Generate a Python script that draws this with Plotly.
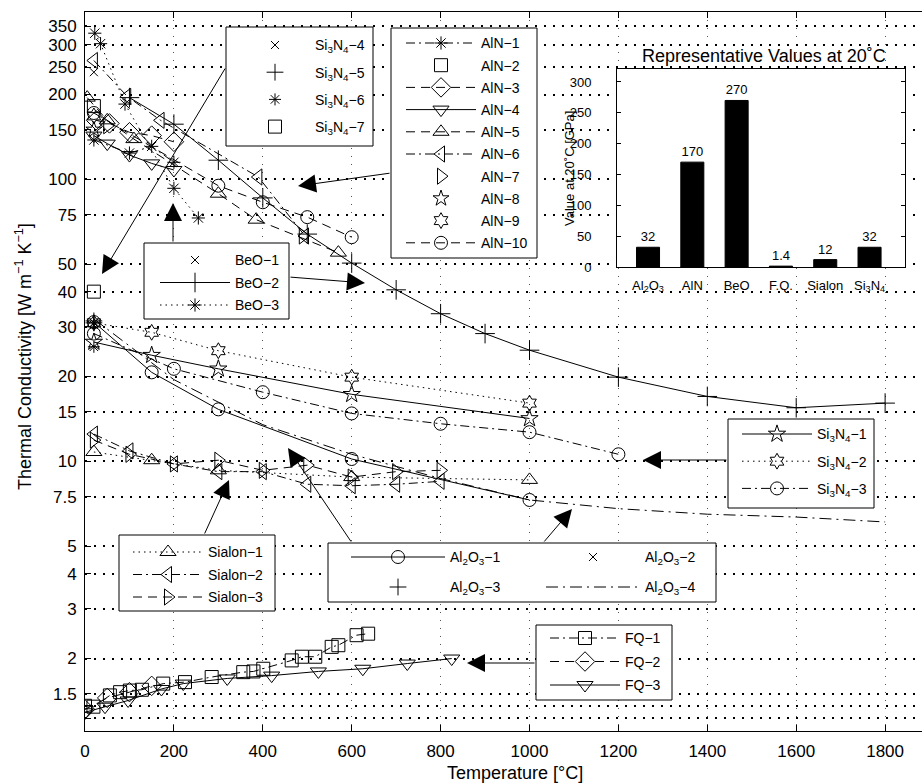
import plotly.graph_objects as go

FONT = "Liberation Sans, Arial, sans-serif"

# ---------------- data ----------------
si3n4_4_x = [20];  si3n4_4_y = [31]
si3n4_5_x = [20];  si3n4_5_y = [31.5]
si3n4_6_x = [20, 20];  si3n4_6_y = [31, 25.5]
si3n4_7_x = [20];  si3n4_7_y = [40]

aln1_x = [20, 100, 150, 200];            aln1_y = [138, 124, 131, 115]
aln2_x = [20];                           aln2_y = [182]
aln3_x = [25, 55, 100, 150, 200];        aln3_y = [162, 158, 147, 143, 136]
aln4_x = [20, 50, 100, 150, 200];        aln4_y = [143, 134, 122, 114, 108]
aln5_x = [5, 50, 110, 300, 385, 570];    aln5_y = [195, 162, 139, 89, 72, 55]
aln6_x = [20, 95, 170, 390, 495];        aln6_y = [264, 197, 162, 102, 63]
aln7_x = [50, 490];                      aln7_y = [155, 63]
aln8_x = [20];                           aln8_y = [150]
aln9_x = [20];                           aln9_y = [168]
aln10_x = [20, 300, 400, 500, 600];      aln10_y = [172, 95, 83, 73.5, 62.4]

beo1_x = [20];  beo1_y = [240]
beo2_x = [100, 200, 300, 400, 500, 600, 700, 800, 900, 1000, 1200, 1400, 1600, 1800]
beo2_y = [195, 157, 117, 86, 64, 50.5, 40.6, 33.4, 28.4, 24.8, 19.9, 17.0, 15.5, 16.1]
beo3_x = [22, 35, 90, 200, 255];  beo3_y = [330, 303, 185, 93, 73]

si3n4_1_x = [20, 150, 300, 600, 1000];  si3n4_1_y = [26.5, 23.8, 21.3, 17.3, 14.2]
si3n4_2_x = [20, 150, 300, 600, 1000];  si3n4_2_y = [31, 28.7, 24.7, 19.9, 16.1]
si3n4_3_x = [20, 200, 400, 600, 800, 1000, 1200]
si3n4_3_y = [28.4, 21.3, 17.6, 14.8, 13.6, 12.7, 10.6]

sialon1_x = [20, 150, 300, 600, 1000];  sialon1_y = [10.8, 10.1, 9.3, 8.8, 8.6]
sialon2_x = [20, 100, 200, 300, 400, 500, 600, 700, 800]
sialon2_y = [12.5, 10.9, 9.8, 9.2, 9.2, 8.3, 8.2, 8.3, 8.5]
sialon3_x = [20, 100, 200, 300, 400, 500, 600, 700, 800]
sialon3_y = [11.9, 10.6, 9.8, 10.1, 9.3, 9.7, 8.8, 9.2, 9.3]

al2o3_1_x = [20, 150, 300, 600, 1000];  al2o3_1_y = [31.2, 20.7, 15.3, 10.2, 7.3]
al2o3_2_x = [20];  al2o3_2_y = [30.5]
al2o3_3_x = [20];  al2o3_3_y = [31]
al2o3_4_x = [20, 200, 400, 600, 800, 1000, 1200, 1400, 1600, 1800]
al2o3_4_y = [32, 19.5, 13.5, 10.6, 8.7, 7.3, 6.8, 6.5, 6.35, 6.1]

fq1_x = [0, 19, 56, 79, 101, 128, 176, 225, 285, 356, 379, 401, 465, 488, 518, 555, 570, 611, 637]
fq1_y = [1.36, 1.35, 1.48, 1.52, 1.54, 1.55, 1.63, 1.65, 1.72, 1.79, 1.80, 1.84, 1.97, 2.03, 2.03,
         2.2, 2.23, 2.42, 2.45]
fq2_x = [0, 50, 100, 150];  fq2_y = [1.32, 1.45, 1.52, 1.60]
fq3_x = [0, 45, 97, 172, 221, 320, 420, 525, 625, 725, 825]
fq3_y = [1.29, 1.35, 1.42, 1.56, 1.63, 1.70, 1.74, 1.80, 1.84, 1.92, 2.0]

inset_labels = ["Al<sub>2</sub>O<sub>3</sub>", "AlN", "BeO", "F.Q.", "Sialon", "Si<sub>3</sub>N<sub>4</sub>"]
inset_values = [32, 170, 270, 1.4, 12, 32]
inset_text = ["32", "170", "270", "1.4", "12", "32"]

x_ticks = [0, 200, 400, 600, 800, 1000, 1200, 1400, 1600, 1800]
y_ticks = [1.5, 2, 3, 4, 5, 7.5, 10, 15, 20, 30, 40, 50, 75, 100, 150, 200, 250, 300, 350]
y_ticktext = ["1.5", "2", "3", "4", "5", "7.5", "10", "15", "20", "30", "40", "50", "75",
              "100", "150", "200", "250", "300", "350"]
y_minor = [1.23, 1.36]

SI = "Si<sub>3</sub>N<sub>4</sub>"
AL = "Al<sub>2</sub>O<sub>3</sub>"
M = "\u2212"

# ---------------- styles ----------------
DASH = "9px,6px"
DASHDOT = "9px,4px,2px,4px"
DOT = "1.5px,4px"

fig = go.Figure()


def add(name, x, y, symbol, dash, legend, size=12):
    mode = "markers" if dash is None else "lines+markers"
    fig.add_trace(go.Scatter(
        x=x, y=y, name=name, mode=mode, legend=legend, legendgroup=name,
        line=dict(color="black", width=1, dash=dash if dash else "solid"),
        marker=dict(symbol=symbol, size=size, color="black",
                    line=dict(color="black", width=1)),
    ))


# legend 1: Si3N4-4..7
add(SI + M + "4", si3n4_4_x, si3n4_4_y, "x-thin-open", None, "legend", 8)
add(SI + M + "5", si3n4_5_x, si3n4_5_y, "cross-thin-open", None, "legend", 12)
add(SI + M + "6", si3n4_6_x, si3n4_6_y, "asterisk-open", None, "legend", 10)
add(SI + M + "7", si3n4_7_x, si3n4_7_y, "square-open", None, "legend", 13)
# legend 2: AlN
add("AlN" + M + "1", aln1_x, aln1_y, "asterisk-open", DASHDOT, "legend2", 11)
add("AlN" + M + "2", aln2_x, aln2_y, "square-open", None, "legend2", 13)
add("AlN" + M + "3", aln3_x, aln3_y, "diamond-open", DASH, "legend2", 15)
add("AlN" + M + "4", aln4_x, aln4_y, "triangle-down-open", "solid", "legend2", 14)
add("AlN" + M + "5", aln5_x, aln5_y, "triangle-up-open", DASH, "legend2", 14)
add("AlN" + M + "6", aln6_x, aln6_y, "triangle-left-open", DASHDOT, "legend2", 14)
add("AlN" + M + "7", aln7_x, aln7_y, "triangle-right-open", None, "legend2", 14)
add("AlN" + M + "8", aln8_x, aln8_y, "star-open", None, "legend2", 12)
add("AlN" + M + "9", aln9_x, aln9_y, "hexagram-open", None, "legend2", 12)
add("AlN" + M + "10", aln10_x, aln10_y, "circle-open", DASH, "legend2", 13)
# legend 3: BeO
add("BeO" + M + "1", beo1_x, beo1_y, "x-thin-open", None, "legend3", 8)
add("BeO" + M + "2", beo2_x, beo2_y, "cross-thin-open", "solid", "legend3", 14)
add("BeO" + M + "3", beo3_x, beo3_y, "asterisk-open", DOT, "legend3", 11)
# legend 4: Si3N4-1..3
add(SI + M + "1", si3n4_1_x, si3n4_1_y, "star-open", "solid", "legend4", 13)
add(SI + M + "2", si3n4_2_x, si3n4_2_y, "hexagram-open", DOT, "legend4", 12)
add(SI + M + "3", si3n4_3_x, si3n4_3_y, "circle-open", DASHDOT, "legend4", 13)
# legend 5: Sialon
add("Sialon" + M + "1", sialon1_x, sialon1_y, "triangle-up-open", DOT, "legend5", 14)
add("Sialon" + M + "2", sialon2_x, sialon2_y, "triangle-left-open", DASHDOT, "legend5", 14)
add("Sialon" + M + "3", sialon3_x, sialon3_y, "triangle-right-open", DASH, "legend5", 14)
# legend 6/7: Al2O3 (two columns)
add(AL + M + "1", al2o3_1_x, al2o3_1_y, "circle-open", "solid", "legend6", 13)
add(AL + M + "3", al2o3_3_x, al2o3_3_y, "cross-thin-open", None, "legend6", 12)
add(AL + M + "2", al2o3_2_x, al2o3_2_y, "x-thin-open", None, "legend7", 8)
fig.add_trace(go.Scatter(
    x=al2o3_4_x, y=al2o3_4_y, name=AL + M + "4", mode="lines", legend="legend7",
    legendgroup="al4", line=dict(color="black", width=1, dash="12px,5px,2px,5px")))
# legend 8: FQ
add("FQ" + M + "1", fq1_x, fq1_y, "square-open", DASHDOT, "legend8", 13)
add("FQ" + M + "2", fq2_x, fq2_y, "diamond-open", DASH, "legend8", 15)
add("FQ" + M + "3", fq3_x, fq3_y, "triangle-down-open", "solid", "legend8", 14)

# inset bar chart
fig.add_trace(go.Bar(
    x=[1, 2, 3, 4, 5, 6], y=inset_values, text=inset_text, textposition="outside",
    textfont=dict(family=FONT, size=13, color="black"), cliponaxis=False,
    marker=dict(color="black", line=dict(color="black", width=1)), width=0.52,
    xaxis="x2", yaxis="y2", showlegend=False))


# ---------------- layout helpers (pixel -> paper) ----------------
def PX(px):
    return (px - 85) / 837.0


def PY(py):
    return (731 - py) / 719.0


def legend_cfg(xpx, ytop, gap, itemwidth=70):
    return dict(x=PX(xpx), y=PY(ytop), xanchor="left", yanchor="top",
                bgcolor="rgba(0,0,0,0)", borderwidth=0, itemwidth=itemwidth,
                tracegroupgap=gap, traceorder="grouped",
                font=dict(family=FONT, size=14, color="black"))


boxes = [(226, 27, 373, 146), (391, 28, 537, 258), (144, 243, 289, 319),
         (728, 419, 874, 508), (119, 535, 275, 611), (328, 543, 716, 602),
         (536, 625, 672, 700)]
shapes = [dict(type="rect", xref="paper", yref="paper", x0=PX(a), x1=PX(c), y0=PY(d), y1=PY(b),
               line=dict(color="black", width=1), fillcolor="white", layer="above")
          for a, b, c, d in boxes]

arrows = [((102, 274), (226, 67)), ((298, 186), (391, 173)), ((173, 203), (173, 243)),
          ((365, 283), (289, 277)), ((643, 460), (728, 460)), ((229, 480), (204, 535)),
          ((288, 448), (352, 543)), ((572, 509), (543, 543)), ((467, 663), (536, 663))]
annotations = []
for (tx, ty), (sx, sy) in arrows:
    annotations.append(dict(x=PX(tx), y=PY(ty), xref="paper", yref="paper", text="",
                            showarrow=True, ax=sx - tx, ay=sy - ty, arrowhead=2,
                            arrowsize=3.6, arrowwidth=1, arrowcolor="black", standoff=0))

annotations += [
    dict(x=PX(515), y=PY(773), xref="paper", yref="paper", text="Temperature [°C]",
         showarrow=False, font=dict(family=FONT, size=18, color="black"),
         xanchor="center", yanchor="middle"),
    dict(x=PX(23), y=PY(357), xref="paper", yref="paper",
         text="Thermal Conductivity [W m<sup>" + M + "1</sup> K<sup>" + M + "1</sup>]",
         textangle=-90, showarrow=False, font=dict(family=FONT, size=18, color="black"),
         xanchor="center", yanchor="middle"),
    dict(x=PX(764), y=PY(56), xref="paper", yref="paper", text="Representative Values at 20˚C",
         showarrow=False, font=dict(family=FONT, size=18, color="black"),
         xanchor="center", yanchor="middle"),
    dict(x=PX(569), y=PY(169), xref="paper", yref="paper", text="Value at 20˚C [GPa]",
         textangle=-90, showarrow=False, font=dict(family=FONT, size=13, color="black"),
         xanchor="center", yanchor="middle"),
]

fig.update_layout(
    width=922, height=783,
    margin=dict(l=85, r=0, t=12, b=52, autoexpand=False),
    paper_bgcolor="white", plot_bgcolor="white",
    font=dict(family=FONT, color="black"),
    shapes=shapes, annotations=annotations,
    legend=legend_cfg(235, 29.4, 6),
    legend2=legend_cfg(401, 27.4, 1),
    legend3=legend_cfg(155, 244.4, 1.3),
    legend4=legend_cfg(737, 418.4, 6),
    legend5=legend_cfg(128, 536.4, 1.3),
    legend6=legend_cfg(346, 541.4, 8.8, 94),
    legend7=legend_cfg(541, 541.4, 8.8, 94),
    legend8=legend_cfg(545, 622.4, 2.3),
    xaxis=dict(range=[0, 1883], tickvals=x_ticks, ticks="inside", ticklen=6, tickcolor="black",
               showline=True, linecolor="black", linewidth=1, mirror="ticks",
               showgrid=True, gridcolor="#555", gridwidth=1, griddash="1px,7px",
               zeroline=False, tickfont=dict(family=FONT, size=17, color="black"),
               ticklabelstandoff=5, automargin=False),
    yaxis=dict(type="log", range=[0.0441, 2.5937], tickvals=y_ticks, ticktext=y_ticktext,
               ticks="inside", ticklen=6, tickcolor="black",
               showline=True, linecolor="black", linewidth=1, mirror=False,
               showgrid=True, gridcolor="black", gridwidth=1.5, griddash="2px,7px",
               minor=dict(tickvals=y_minor, ticks="inside", ticklen=6, tickcolor="black",
                          showgrid=True, gridcolor="black", gridwidth=1.5, griddash="2px,7px"),
               zeroline=False, tickfont=dict(family=FONT, size=17, color="black"),
               ticklabelstandoff=4, automargin=False),
    xaxis2=dict(domain=[PX(617), PX(905)], anchor="y2", range=[0.3, 6.8],
                tickvals=[1, 2, 3, 4, 5, 6], ticktext=inset_labels, ticks="",
                showline=True, linecolor="black", linewidth=1, mirror=True,
                showgrid=False, zeroline=False, automargin=False,
                tickfont=dict(family=FONT, size=13, color="black"), ticklabelstandoff=6),
    yaxis2=dict(domain=[PY(267), PY(69)], anchor="x2", range=[0, 321],
                tickvals=[0, 50, 100, 150, 200, 250, 300], ticks="inside", ticklen=4,
                tickcolor="black", showline=True, linecolor="black", linewidth=1,
                mirror="ticks", showgrid=False, zeroline=False, automargin=False,
                tickfont=dict(family=FONT, size=13, color="black"), ticklabelstandoff=22),
    bargap=0.2,
)

fig.write_html("out.html", config={"displayModeBar": False},
               post_script="document.body.style.margin='0px';")
